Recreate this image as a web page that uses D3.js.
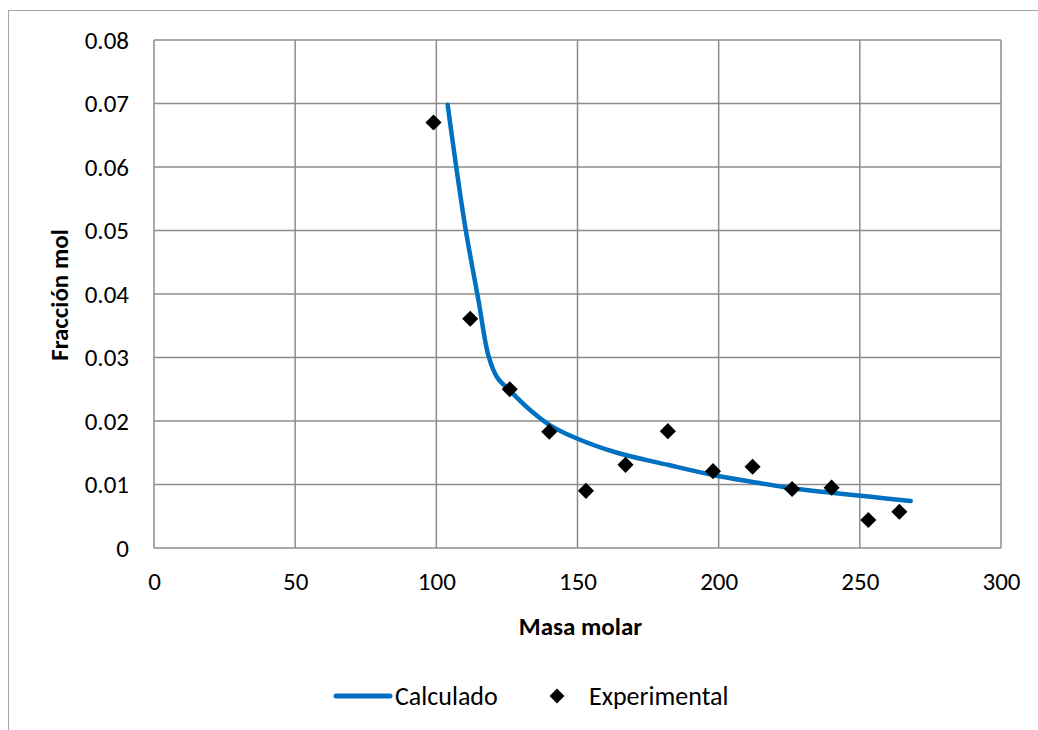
<!DOCTYPE html>
<html>
<head>
<meta charset="utf-8">
<script src="https://cdn.jsdelivr.net/npm/d3@7/dist/d3.min.js"></script>
<style>
  html, body { margin: 0; padding: 0; background: #fff; }
  svg { display: block; font-family: Carlito, Lato, "Open Sans", sans-serif; }
</style>
</head>
<body>
<svg id="chart" width="1038" height="730"></svg>
<script>
// Experimental points: molar mass vs. mole fraction
const expMass = [99, 112, 126, 140, 153, 167, 182, 198, 212, 226, 240, 253, 264];
const expFrac = [0.0670, 0.0361, 0.0250, 0.0183, 0.0090, 0.0131, 0.0184, 0.0121, 0.0128, 0.0093, 0.0095, 0.0044, 0.0057];

// Calculated curve
const calcMass = [104, 110, 115, 118.5, 121.5, 126, 133, 140, 150, 164, 182, 198, 212, 226, 240, 253, 268];
const calcFrac = [0.0698, 0.0512, 0.0388, 0.0302, 0.0269, 0.0248, 0.0218, 0.0194, 0.0172, 0.0150, 0.0131, 0.0115, 0.0104, 0.0094, 0.0087, 0.0081, 0.0074];

const xTicks = [0, 50, 100, 150, 200, 250, 300];
const yTicks = [0, 0.01, 0.02, 0.03, 0.04, 0.05, 0.06, 0.07, 0.08];

const seriesNames = ["Calculado", "Experimental"];
const xTitle = "Masa molar";
const yTitle = "Fracción mol";

const svg = d3.select("#chart");
const m = { left: 154, right: 1001, top: 40, bottom: 548 };

const x = d3.scaleLinear().domain([0, 300]).range([m.left, m.right]);
const y = d3.scaleLinear().domain([0, 0.08]).range([m.bottom, m.top]);

// Outer chart frame
svg.append("rect")
  .attr("x", 8.5).attr("y", 10.5)
  .attr("width", 1100).attr("height", 800)
  .attr("fill", "none").attr("stroke", "#a6a6a6").attr("stroke-width", 1);

// Gridlines
const grid = svg.append("g").attr("stroke", "#8c8c8c").attr("stroke-width", 1.5);
grid.selectAll("line.h").data(yTicks).join("line")
  .attr("x1", m.left).attr("x2", m.right)
  .attr("y1", d => y(d)).attr("y2", d => y(d));
grid.selectAll("line.v").data(xTicks).join("line")
  .attr("y1", m.top).attr("y2", m.bottom)
  .attr("x1", d => x(d)).attr("x2", d => x(d));

// Axes (labels only, no tick marks)
const xAxis = svg.append("g")
  .attr("transform", `translate(0,${m.bottom})`)
  .call(d3.axisBottom(x).tickValues(xTicks).tickSize(0).tickPadding(24).tickFormat(d3.format("d")));
const yAxis = svg.append("g")
  .attr("transform", `translate(${m.left},0)`)
  .call(d3.axisLeft(y).tickValues(yTicks).tickSize(0).tickPadding(25)
    .tickFormat(d => d === 0 ? "0" : d3.format(".2f")(d)));
[xAxis, yAxis].forEach(a => {
  a.select(".domain").remove();
  a.selectAll("text").attr("font-size", 25).attr("fill", "#000")
    .attr("font-family", "Carlito, Lato, 'Open Sans', sans-serif");
});

// Axis titles
svg.append("text")
  .attr("x", (m.left + m.right) / 2 + 3).attr("y", 635)
  .attr("text-anchor", "middle").attr("font-size", 25).attr("font-weight", "bold")
  .text(xTitle);
svg.append("text")
  .attr("transform", "translate(68,295) rotate(-90)")
  .attr("text-anchor", "middle").attr("font-size", 25).attr("font-weight", "bold")
  .text(yTitle);

// Calculated curve
const calcData = calcMass.map((d, i) => [d, calcFrac[i]]);
svg.append("path")
  .datum(calcData)
  .attr("fill", "none").attr("stroke", "#0070C0").attr("stroke-width", 4.5)
  .attr("stroke-linecap", "round").attr("stroke-linejoin", "round")
  .attr("d", d3.line().x(d => x(d[0])).y(d => y(d[1])).curve(d3.curveCatmullRom.alpha(0.5)));

// Experimental markers
const diamond = d3.symbol().type(d3.symbolSquare).size(130);
const expData = expMass.map((d, i) => [d, expFrac[i]]);
svg.append("g").selectAll("path").data(expData).join("path")
  .attr("d", diamond)
  .attr("transform", d => `translate(${x(d[0])},${y(d[1])}) rotate(45)`)
  .attr("fill", "#000");

// Legend
const lg = svg.append("g");
lg.append("line").attr("x1", 336).attr("x2", 390).attr("y1", 696).attr("y2", 696)
  .attr("stroke", "#0070C0").attr("stroke-width", 5).attr("stroke-linecap", "round");
lg.append("text").attr("x", 395).attr("y", 705).attr("font-size", 26).text(seriesNames[0]);
lg.append("path").attr("d", d3.symbol().type(d3.symbolSquare).size(110))
  .attr("transform", "translate(557,696) rotate(45)").attr("fill", "#000");
lg.append("text").attr("x", 589).attr("y", 705).attr("font-size", 26).text(seriesNames[1]);
</script>
</body>
</html>
